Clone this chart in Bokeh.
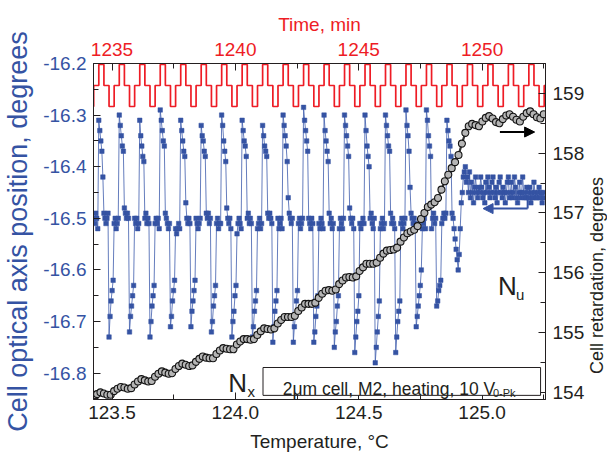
import numpy as np
from bokeh.plotting import figure
from bokeh.models import (Range1d, LinearAxis, FixedTicker, PrintfTickFormatter,
                          Label, BoxAnnotation, Arrow, NormalHead, Div)
from bokeh.layouts import row
from bokeh.embed import file_html
from bokeh.resources import INLINE

# ---------------- data ----------------
temp_ticks = [123.5, 124.0, 124.5, 125.0]
temp_minor = [123.75, 124.25, 124.75, 125.25]
time_ticks = [1235, 1240, 1245, 1250]
time_minor = [1237.5, 1242.5, 1247.5, 1252.5]
axis_ticks = [-16.8, -16.7, -16.6, -16.5, -16.4, -16.3, -16.2]
axis_minor = [-16.85, -16.75, -16.65, -16.55, -16.45, -16.35, -16.25]
ret_ticks = [154, 155, 156, 157, 158, 159]
ret_minor = [154.5, 155.5, 156.5, 157.5, 158.5, 159.5]

# drive voltage (V): low / zero / high / zero steps
drive_t0 = 1234.05      # min
drive_step = 0.2075     # min per level
drive_levels = [
    -10, 0, 10, 0, -10, 0, 10, 0, -10, 0, 10, 0, -10, 0, 10, 0,
    -10, 0, 10, 0, -10, 0, 10, 0, -10, 0, 10, 0, -10, 0, 10, 0,
    -10, 0, 10, 0, -10, 0, 10, 0, -10, 0, 10, 0, -10, 0, 10, 0,
    -10, 0, 10, 0, -10, 0, 10, 0, -10, 0, 10, 0, -10, 0, 10, 0,
    -10, 0, 10, 0, -10, 0, 10, 0, -10, 0, 10, 0, -10, 0, 10, 0,
    -10, 0, 10, 0, -10, 0, 10, 0, -10, 0, 10, 0,
]

# optical axis position (deg), sampled every axis_dT in temperature
axis_T0 = 123.4257
axis_dT = 0.00415
axis_pos = [
    -16.50, -16.51, -16.49, -16.50, -16.52,
    -16.31, -16.33, -16.35, -16.37, -16.42, -16.49, -16.50, -16.51, -16.50, -16.49,
    -16.73, -16.69, -16.66, -16.64, -16.62, -16.51, -16.50, -16.52, -16.51, -16.50,
    -16.30, -16.32, -16.34, -16.36, -16.37, -16.48, -16.49, -16.50, -16.49, -16.50,
    -16.72, -16.69, -16.67, -16.65, -16.63, -16.50, -16.51, -16.50, -16.52, -16.51,
    -16.31, -16.34, -16.36, -16.38, -16.39, -16.50, -16.49, -16.51, -16.50, -16.51,
    -16.73, -16.70, -16.67, -16.65, -16.63, -16.51, -16.50, -16.51, -16.50, -16.52,
    -16.29, -16.31, -16.33, -16.35, -16.36, -16.49, -16.50, -16.51, -16.52, -16.51,
    -16.71, -16.69, -16.66, -16.64, -16.62, -16.52, -16.53, -16.52, -16.51, -16.52,
    -16.31, -16.33, -16.35, -16.37, -16.38, -16.47, -16.50, -16.51, -16.50, -16.51,
    -16.71, -16.68, -16.66, -16.64, -16.62, -16.50, -16.51, -16.52, -16.51, -16.50,
    -16.32, -16.34, -16.35, -16.37, -16.38, -16.49, -16.50, -16.49, -16.51, -16.50,
    -16.72, -16.70, -16.67, -16.65, -16.63, -16.51, -16.50, -16.52, -16.51, -16.51,
    -16.30, -16.32, -16.35, -16.37, -16.39, -16.48, -16.50, -16.51, -16.50, -16.52,
    -16.73, -16.70, -16.68, -16.65, -16.63, -16.53, -16.51, -16.50, -16.51, -16.52,
    -16.31, -16.33, -16.35, -16.36, -16.38, -16.50, -16.49, -16.51, -16.50, -16.51,
    -16.73, -16.71, -16.68, -16.66, -16.64, -16.52, -16.51, -16.50, -16.52, -16.51,
    -16.32, -16.34, -16.36, -16.37, -16.38, -16.49, -16.50, -16.49, -16.50, -16.51,
    -16.74, -16.71, -16.68, -16.66, -16.64, -16.50, -16.52, -16.51, -16.50, -16.52,
    -16.30, -16.32, -16.34, -16.36, -16.39, -16.46, -16.49, -16.50, -16.51, -16.50,
    -16.74, -16.71, -16.69, -16.66, -16.64, -16.51, -16.50, -16.52, -16.51, -16.50,
    -16.285, -16.31, -16.33, -16.35, -16.37, -16.50, -16.51, -16.52, -16.50, -16.51,
    -16.74, -16.72, -16.69, -16.67, -16.65, -16.51, -16.52, -16.50, -16.51, -16.52,
    -16.30, -16.33, -16.35, -16.37, -16.39, -16.49, -16.51, -16.50, -16.52, -16.51,
    -16.75, -16.72, -16.70, -16.67, -16.65, -16.52, -16.50, -16.51, -16.52, -16.50,
    -16.30, -16.32, -16.34, -16.36, -16.38, -16.48, -16.50, -16.51, -16.50, -16.52,
    -16.76, -16.73, -16.70, -16.68, -16.65, -16.51, -16.52, -16.51, -16.50, -16.51,
    -16.30, -16.33, -16.36, -16.38, -16.40, -16.50, -16.49, -16.51, -16.52, -16.50,
    -16.78, -16.75, -16.72, -16.69, -16.66, -16.52, -16.51, -16.50, -16.52, -16.51,
    -16.30, -16.32, -16.34, -16.36, -16.37, -16.49, -16.51, -16.50, -16.51, -16.52,
    -16.76, -16.73, -16.70, -16.68, -16.66, -16.51, -16.50, -16.52, -16.51, -16.50,
    -16.29, -16.32, -16.34, -16.37, -16.44, -16.49, -16.50, -16.51, -16.50, -16.51,
    -16.71, -16.69, -16.67, -16.65, -16.63, -16.60, -16.52, -16.51, -16.50, -16.52,
    -16.29, -16.31, -16.34, -16.36, -16.38, -16.52, -16.50, -16.49, -16.51, -16.50,
    -16.67, -16.66, -16.64, -16.63, -16.62, -16.51, -16.50, -16.49, -16.50, -16.49,
    -16.31, -16.33, -16.35, -16.36, -16.38, -16.49, -16.50, -16.52, -16.54, -16.56,
    -16.58, -16.60, -16.57, -16.52, -16.47, -16.45, -16.42, -16.41, -16.40, -16.43,
    -16.42, -16.45, -16.41, -16.46, -16.43, -16.45, -16.47, -16.44, -16.42, -16.45,
    -16.46, -16.44, -16.45, -16.42, -16.44, -16.46, -16.45, -16.47, -16.43, -16.45,
    -16.42, -16.44, -16.46, -16.45, -16.43, -16.42, -16.45, -16.46, -16.44, -16.47,
    -16.45, -16.43, -16.42, -16.45, -16.46, -16.44, -16.45, -16.47, -16.45, -16.43,
    -16.42, -16.46, -16.45, -16.43, -16.46, -16.45, -16.42, -16.44, -16.46, -16.47,
    -16.45, -16.43, -16.46, -16.45, -16.42, -16.45, -16.46, -16.46, -16.44, -16.45,
    -16.46, -16.44, -16.47, -16.45, -16.46, -16.43, -16.45, -16.46, -16.46, -16.45,
    -16.44, -16.46, -16.45, -16.47, -16.45, -16.46,
]

# cell retardation (deg), sampled every ret_dT in temperature
ret_T0 = 123.4257
ret_dT = 0.01382
retardation = [
    153.93, 153.97, 154.00, 153.98, 153.96, 153.96, 154.02, 154.06, 154.09, 154.08,
    154.06, 154.07, 154.13, 154.18, 154.22, 154.20, 154.18, 154.19, 154.26, 154.31,
    154.35, 154.33, 154.31, 154.32, 154.39, 154.44, 154.48, 154.46, 154.44, 154.45,
    154.51, 154.56, 154.60, 154.58, 154.57, 154.57, 154.64, 154.70, 154.74, 154.73,
    154.72, 154.72, 154.80, 154.85, 154.89, 154.89, 154.88, 154.89, 154.96, 155.02,
    155.07, 155.06, 155.05, 155.07, 155.15, 155.21, 155.26, 155.26, 155.26, 155.28,
    155.36, 155.42, 155.48, 155.48, 155.48, 155.50, 155.58, 155.65, 155.70, 155.71,
    155.70, 155.72, 155.81, 155.87, 155.92, 155.93, 155.92, 155.94, 156.03, 156.09,
    156.15, 156.15, 156.15, 156.17, 156.25, 156.32, 156.37, 156.38, 156.39, 156.42,
    156.52, 156.59, 156.66, 156.69, 156.72, 156.78, 156.90, 157.00, 157.10, 157.14,
    157.18, 157.25, 157.39, 157.53, 157.64, 157.75, 157.85, 157.97, 158.16, 158.34,
    158.45, 158.49, 158.47, 158.45, 158.53, 158.59, 158.62, 158.58, 158.52, 158.50,
    158.57, 158.63, 158.65, 158.61, 158.56, 158.53, 158.61, 158.67, 158.70, 158.65,
    158.60, 158.58, 158.65,
]

# ---------------- figure ----------------
FONT = "Liberation Sans"
BLUE = "#3553a3"
RED = "#ee1c25"
INK = "#231f20"
TITLE_W = 20

p = figure(width=607 - TITLE_W, height=461, output_backend="svg", toolbar_location=None,
           x_range=Range1d(123.425, 125.257), y_range=Range1d(-16.851, -16.2),
           min_border_left=92, min_border_right=39, min_border_top=63, min_border_bottom=62,
           background_fill_color="white", border_fill_color="white")
p.extra_x_ranges = {"time": Range1d(1234.25, 1252.57)}
p.extra_y_ranges = {"ret": Range1d(153.88, 159.50), "drive": Range1d(-149.52, 10.48)}
p.grid.visible = False
p.outline_line_color = INK
p.outline_line_width = 1


def style_axis(ax, color, ticks, minor, fmt, standoff, title=None, tsize=None, tstandoff=0):
    ax.ticker = FixedTicker(ticks=ticks, minor_ticks=minor)
    ax.formatter = PrintfTickFormatter(format=fmt)
    ax.axis_line_color = INK
    ax.major_tick_line_color = INK
    ax.minor_tick_line_color = INK
    ax.major_tick_in = 7
    ax.major_tick_out = 0
    ax.minor_tick_in = 5
    ax.minor_tick_out = 0
    ax.major_label_text_color = color
    ax.major_label_text_font = FONT
    ax.major_label_text_font_size = "19px"
    ax.major_label_standoff = standoff
    if title:
        ax.axis_label = title
        ax.axis_label_text_font = FONT
        ax.axis_label_text_font_size = tsize
        ax.axis_label_text_font_style = "normal"
        ax.axis_label_text_color = color
        ax.axis_label_standoff = tstandoff


style_axis(p.xaxis[0], INK, temp_ticks, temp_minor, "%.1f", 6,
           "Temperature, \u00b0C", "19px", 9)
style_axis(p.yaxis[0], BLUE, axis_ticks, axis_minor, "%.1f", 7,
           "Cell optical axis position, degrees", "27px", 7)
top_ax = LinearAxis(x_range_name="time")
style_axis(top_ax, RED, time_ticks, time_minor, "%d", 8, "Time, min", "19px", 5)
p.add_layout(top_ax, "above")
right_ax = LinearAxis(y_range_name="ret")
style_axis(right_ax, INK, ret_ticks, ret_minor, "%d", 7)
p.add_layout(right_ax, "right")

# ---- series ----
drive_t = drive_t0 + drive_step * np.arange(len(drive_levels))
p.step(drive_t, drive_levels, mode="after", x_range_name="time", y_range_name="drive",
       line_color=RED, line_width=1.7)

axis_T = axis_T0 + axis_dT * np.arange(len(axis_pos))
p.line(axis_T, axis_pos, line_color="#4a66b2", line_width=1, line_alpha=0.85)
p.scatter(axis_T, axis_pos, marker="square", size=4.5, fill_color=BLUE, line_color=BLUE,
          line_width=0.5)

ret_T = ret_T0 + ret_dT * np.arange(len(retardation))
p.line(ret_T, retardation, y_range_name="ret", line_color="#333333", line_width=2.2)
p.scatter(ret_T, retardation, y_range_name="ret", marker="circle", size=7,
          fill_color="#b5b5b5", line_color="#141414", line_width=1.1)

# ---- annotations ----
def lab(x, y, text, size, color=INK, align="left", baseline="alphabetic"):
    p.add_layout(Label(x=x, y=y, text=text, text_font=FONT, text_font_size=size,
                       text_color=color, text_align=align, text_baseline=baseline))


lab(123.9714, -16.8182, "N", "26px")
lab(124.0487, -16.8357, "x", "15px")
lab(125.0642, -16.6302, "N", "26px")
lab(125.1370, -16.6477, "u", "15px")

p.add_layout(BoxAnnotation(left=124.112, right=125.237, top=-16.789, bottom=-16.843,
                           fill_color="white", fill_alpha=1, line_color=INK, line_width=1,
                           line_alpha=1))
lab(124.192, -16.830, "2\u03bcm cell, M2, heating, 10 V", "17.5px")
lab(125.044, -16.8376, "0-Pk", "11px")

p.add_layout(Arrow(end=NormalHead(size=10, fill_color="black", line_color="black"),
                   x_start=125.0722, y_start=-16.3328, x_end=125.2129, y_end=-16.3328,
                   line_color="black", line_width=2))
p.add_layout(Arrow(end=NormalHead(size=10, fill_color=BLUE, line_color=BLUE),
                   x_start=125.1847, y_start=-16.4811, x_end=125.0039, y_end=-16.4811,
                   line_color=BLUE, line_width=2))
p.add_layout(Arrow(end=None, x_start=125.1847, y_start=-16.4811, x_end=125.1847,
                   y_end=-16.4597, line_color=BLUE, line_width=2))

# right-hand axis title, reading bottom to top
right_title = Div(
    text=("<div style=\"writing-mode: vertical-rl; transform: rotate(180deg); "
          "font-family: 'Liberation Sans'; font-size: 18px; line-height: 20px; "
          "color: #231f20; height: 461px; box-sizing: border-box; padding-bottom: 89px; "
          "text-align: center; white-space: nowrap;\">Cell retardation, degrees</div>"),
    width=TITLE_W, height=461, margin=0)

layout = row(p, right_title, spacing=0)
open("out.html", "w").write(file_html(layout, INLINE))
